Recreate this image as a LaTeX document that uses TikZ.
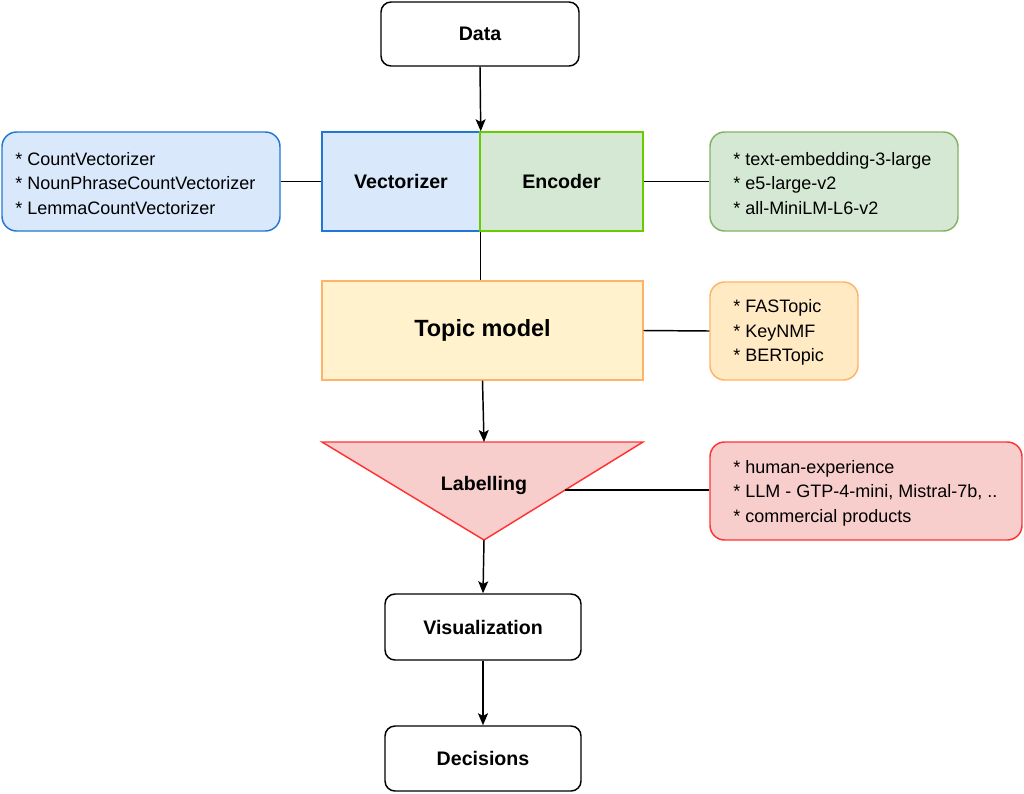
\documentclass[tikz,border=0pt]{standalone}
\usepackage{fontspec}
\setmainfont{Liberation Sans}
\usetikzlibrary{arrows.meta}
\definecolor{bluefill}{HTML}{DAE8FC}
\definecolor{blueline}{HTML}{1F78D6}
\definecolor{greenfill}{HTML}{D5E8D4}
\definecolor{greenline}{HTML}{66CC00}
\definecolor{greenline2}{HTML}{82B366}
\definecolor{yelfill}{HTML}{FFF2CC}
\definecolor{orline}{HTML}{FFB366}
\definecolor{orfill}{HTML}{FFEAC4}
\definecolor{redfill}{HTML}{F8CECC}
\definecolor{redline}{HTML}{FF3333}
\tikzset{
  px/.style={x=0.75pt,y=-0.75pt},
  boxstyle/.style={draw=black,line width=1.1pt,rounded corners=7.5pt,fill=white,
    font=\fontsize{14.7}{17}\selectfont\bfseries,inner sep=0pt},
  sqbox/.style={line width=1.1pt,inner sep=0pt,font=\fontsize{14.7}{17}\selectfont\bfseries},
  listbox/.style={line width=1.1pt,rounded corners=11pt,inner sep=0pt},
  listtext/.style={align=left,anchor=west,inner sep=0pt,font=\fontsize{13.5}{18.4}\selectfont},
  conn/.style={line width=1.1pt,draw=black},
  arr/.style={conn,-{Stealth[length=9pt,width=7.5pt,inset=2pt]}}
}
\begin{document}
\begin{tikzpicture}[px]
\useasboundingbox (0,0) rectangle (1024,793);
% Data
\node[boxstyle,minimum width=148.5pt,minimum height=48pt] (data) at (480,34) {Data};
% Vectorizer / Encoder
\node[sqbox,draw=blueline,fill=bluefill,minimum width=118.5pt,minimum height=74.25pt] (vec) at (401,181.5) {Vectorizer};
\node[sqbox,draw=greenline,fill=greenfill,minimum width=122.25pt,minimum height=74.25pt] (enc) at (561.5,181.5) {Encoder};
% left list
\node[listbox,draw=blueline,fill=bluefill,minimum width=208.5pt,minimum height=74.25pt] (vlist) at (141,181.5) {};
\node[listtext] (vlisttext) at (15,183.5) {* CountVectorizer\\* NounPhraseCountVectorizer\\* LemmaCountVectorizer};
% right green list
\node[listbox,draw=greenline2,fill=greenfill,minimum width=186pt,minimum height=74.25pt] (elist) at (834,181.5) {};
\node[listtext] (elisttext) at (733,183.5) {* text-embedding-3-large\\* e5-large-v2\\* all-MiniLM-L6-v2};
% Topic model
\node[sqbox,draw=orline,fill=yelfill,minimum width=240.75pt,minimum height=74.25pt,
  font=\fontsize{17.6}{20}\selectfont\bfseries] (topic) at (482.5,330.5) {Topic model};
\node[listbox,draw=orline,fill=orfill,minimum width=111pt,minimum height=73.5pt] (tlist) at (784,331) {};
\node[listtext] (tlisttext) at (733,332.5) {* FASTopic\\* KeyNMF\\* BERTopic};
% Labelling triangle
\coordinate (tl) at (322,442);
\coordinate (tr) at (643,442);
\coordinate (tapex) at (484,540);
\coordinate (ttop) at (484,442);
\coordinate (tedge) at (565,490);
\draw[line width=1.1pt,draw=redline,fill=redfill,line join=miter] (tl) -- (tr) -- (tapex) -- cycle;
\node[font=\fontsize{14.7}{17}\selectfont\bfseries,inner sep=0pt] (lab) at (484,485) {Labelling};
\node[listbox,draw=redline,fill=redfill,minimum width=234pt,minimum height=73.5pt] (llist) at (866,491) {};
\node[listtext] (llisttext) at (733,493) {* human-experience\\* LLM - GTP-4-mini, Mistral-7b, ..\\* commercial products};
% Visualization, Decisions
\node[boxstyle,minimum width=147pt,minimum height=49.5pt] (vis) at (483,627) {Visualization};
\node[boxstyle,minimum width=147pt,minimum height=48.75pt] (dec) at (483,758.5) {Decisions};
% connectors
\draw[arr] (data.south) -- (vec.north east);
\draw[conn] (vlist.east) -- (vec.west);
\draw[conn] (enc.east) -- (elist.west);
\draw[conn] (vec.south east) -- (vec.south east |- topic.north);
\draw[conn] (topic.east) -- (tlist.west);
\draw[arr] (topic.south) -- (ttop);
\draw[conn] (tedge) -- (tedge -| llist.west);
\draw[arr] (tapex) -- (vis.north);
\draw[arr] (vis.south) -- (dec.north);
\end{tikzpicture}
\end{document}
